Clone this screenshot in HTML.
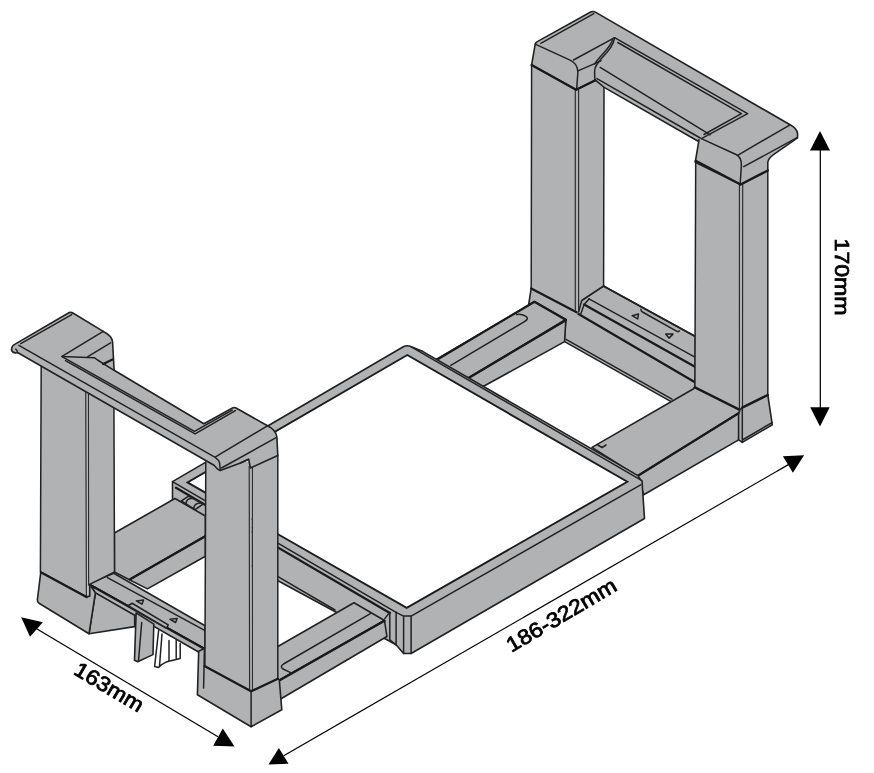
<!DOCTYPE html>
<html lang="en">
<head>
<meta charset="utf-8">
<title>Extendable rack dimensions</title>
<style>
html,body{margin:0;padding:0;background:#fff;}
body{width:874px;height:773px;overflow:hidden;}
svg{display:block;}
.f{fill:#b0b2b3;stroke:#222;stroke-width:1.6;stroke-linejoin:round;stroke-linecap:round;}
.g{fill:#b0b2b3;stroke:none;}
.gs{fill:#b0b2b3;stroke:none;}
.s{fill:#b0b2b3;stroke:#222;stroke-width:1.6;stroke-linejoin:round;}
.l{fill:none;stroke:#222;stroke-width:1.5;stroke-linejoin:round;stroke-linecap:round;}
.k{fill:none;stroke:#1a1a1a;stroke-width:2.3;stroke-linejoin:round;stroke-linecap:round;}
.w{fill:#fff;stroke:#1c1c1c;stroke-width:1.9;stroke-linejoin:miter;}
.t{fill:none;stroke:#2a2a2a;stroke-width:1.15;}
.d{fill:none;stroke:#000;stroke-width:1.25;}
.a{fill:#000;stroke:none;}
text{font-family:"Liberation Sans","Noto Sans CJK SC",sans-serif;font-size:21px;fill:#000;stroke:#000;stroke-width:.8;}
</style>
</head>
<body>
<svg width="874" height="773" viewBox="0 0 874 773">
<rect width="874" height="773" fill="#fff"/>

<!-- ================= RIGHT FRAME : base crossbar ================= -->
<g id="rbase">
<polygon class="f" points="531.2,288.4 528.8,303.7 565.7,321.5 564.1,341.4 672.4,402.4 695.4,389 695.4,336.5 603.4,286 578.8,300"/>
<path class="l" d="M603.4,286 L695.4,336.5"/>
<path class="l" d="M589,298.9 L695.4,357.4"/>
<path class="k" d="M584.1,304.5 L695.4,367"/>
<path class="k" d="M578.5,314.1 L695.4,382.5"/>
<path class="l" d="M566,339.3 L672,399.2"/>
<path class="l" d="M581.7,300.5 L603.4,286 M589,298.9 L584.1,304.5 L580.8,314.1"/>
<path class="l" d="M640.9,309.2 Q640.6,311 642.5,312 L676.5,331.2 Q678.5,332.2 679.4,330.9"/>
<path class="l" d="M632.1,315.7 L638.5,314.1 L637.7,318.9 Z M665.7,334.1 L673,334.1 L669,338.1 Z"/>
</g>

<!-- back rail (RL post -> plate back corner) -->
<g id="backrail">
<polygon class="f" points="534.6,301.6 565.8,319.5 465,380 432,362"/>
<polygon class="f" points="565.8,320.3 564.6,341.6 480,388.3 465,380"/>
<path class="k" d="M565.8,320.3 L466,379.4"/>
<path class="k" d="M436,360.2 L534.4,301.8 L565.7,319.7" stroke-width="1.9"/>
<path class="l" d="M450.8,365.4 L524.5,321.6 Q529.6,318.6 525.5,316.2 Q521,313.4 516.5,314.6"/>
</g>

<!-- right rail (RR post -> plate right corner) -->
<g id="rightrail">
<polygon class="f" points="694.9,386.5 739.8,409 739.8,412.4 637.5,476.1 592,447.4 693.6,388.7"/>
<polygon class="f" points="739.8,412.4 738.6,439.9 643.7,494.8 637.5,476.1"/>
<path class="k" d="M739.8,412.6 L637.5,476.1"/>
<path class="l" d="M597,444.5 L602,447.5 L606,445"/>
</g>

<!-- ================= RIGHT FRAME : posts ================= -->
<g id="rposts">
<polygon class="g" points="531.6,65 577,89.8 577,312.3 531.2,288.4"/>
<polygon class="gs" points="577,89 595,80.5 604,87.4 603.6,286 581.7,300.5 578.6,312 577,312.3"/>
<path class="l" d="M531.6,65 L531.2,288.4 M604,87.4 L603.6,286 L581.7,300.5 L578.6,312"/>
<path class="k" d="M531.2,288.4 L576.6,312.3"/>
<path class="t" d="M575.3,90 L575.3,311.5 M578.6,90 L578.6,312"/>
<polygon class="g" points="695.7,160.8 741,184.6 741,409.9 694.9,387.4"/>
<polygon class="gs" points="741,184 767.8,170.4 767.8,394.9 742.3,407.4 741,409.9"/>
<path class="l" d="M695.7,160.8 L694.9,387.4 M767.8,170.4 L767.8,394.9"/>
<path class="k" d="M694.9,387.4 L739.8,409.9"/>
<path class="t" d="M739.4,184.8 L739.4,409.4 M742.7,184 L742.5,407.4"/>
<polygon class="f" points="742.3,407.4 767.8,394.9 772.3,424.8 742.3,442.4 738.6,439.9 738.6,414.9 739.8,410"/>
<path class="l" d="M742.3,407.4 L742.3,442.4 M772,422.6 L742.3,440"/>
<path class="k" d="M742.3,407.6 L767.8,395"/>
</g>

<!-- ================= RIGHT FRAME : top bar / caps ================= -->
<g id="rtop">
<path class="f" d="M535.2,44.1 Q535.4,42.6 537.3,41.6 L590.2,12.3 Q593,10.7 595.8,12.4 L790.1,124.8 Q797,128.5 797.6,133.6 L797.5,137.8 L773.5,154.6 Q768.2,158.2 767.8,162.5 L767.8,170.6 L740.6,184.6 L695.2,162.3 L699,139.8 L697.7,141 L604.2,87.4 L595.4,80.2 L576.1,89.8 L531.6,65 Z"/>
<path class="l" d="M540.8,43.3 L593.8,13.6"/>
<path class="l" d="M535.2,44.1 L569,59.6 Q577.5,63 577.9,72 L576.6,89.8"/>
<path class="l" d="M573.5,60 L614.6,37.7"/>
<path class="l" d="M578.5,70.6 L601,60.9"/>
<path class="l" d="M614.6,37.7 C613,49 603,55 596.5,65 Q594.3,68.5 594.6,72 L594.8,80.2"/>
<path class="l" d="M612.6,39.2 C611,48 601,54 594.6,64"/>
<path class="l" d="M614.6,37.7 L747.6,113.6 L701.4,138.6"/>
<path class="l" d="M617.8,42.5 L741.4,113.6 L704,134.5"/>
<path class="l" d="M600.2,67.4 L710.2,134.8"/>
<path class="l" d="M597,78.6 L700.2,138"/>
<path class="l" d="M701.4,138.6 L736,154.5 Q741.4,157 741.4,165 L740.1,184.8"/>
<path class="l" d="M737.6,155.3 L790.1,124.8"/>
<path class="l" d="M743.8,166.7 L797.5,137.3"/>
<path class="k" d="M695.7,160.8 L740.6,184.6 L767.8,170.4"/>
<path class="k" d="M531.6,65 L576.1,89.8 L595.4,80.2"/>
</g>

<!-- ================= PLATE ================= -->
<g id="plate">
<path class="f" d="M403.3,346.8 Q407.3,344.6 411.3,346.8 L423,351.6 L638,475.6 L640.6,479.9 L642,480.6 L644.5,518.5 L411.1,653.5 L403.6,653.5 L396.1,644.8 L278,580.8 L172.5,523 L172.5,481.6 Z"/>
<path class="l" d="M411.3,346.8 L640.6,479.9"/>
<polygon class="w" points="407.3,355 627.3,481.8 406.7,607.9 187.5,482.4"/>
<path class="l" d="M411.1,616.1 L640.7,484.8"/>
<path class="l" d="M396.1,612.3 L396.1,644.8 M403.6,616.1 L403.6,653.5 M411.1,616.1 L411.1,653.5 M396.1,612.3 L403.6,616.1 L411.1,616.1"/>
<path class="l" d="M172.5,481.6 L396.1,612.3"/>
<path class="k" d="M176,487.8 L389.8,613" stroke-width="2.6"/>
<path class="l" d="M384.8,618.6 L389.8,612.3 L389.8,639.8 L396.1,644.8"/>
<path class="l" d="M278,576.6 L335,610"/>
</g>

<!-- ================= LEFT FRAME : rails / crossbar ================= -->
<g id="lrails">
<!-- back-left rail -->
<polygon class="f" points="114.4,533 175,498.5 205.4,516 205.4,536 129.4,579.7 114.4,572"/>
<polygon class="f" points="129.4,579.7 205.4,536 205.4,556.2 147.4,588.9"/>
<path class="k" d="M130.5,579 L205.4,536.3"/>
<path class="f" d="M181.4,500.9 L188.6,496.1 L203,504.1 L195,509.7 Z"/>
<path class="l" d="M186,503.5 Q186.5,498 192.5,498.5 M193.5,508.5 Q194.5,503 200.5,503"/>
<!-- front rail -->
<polygon class="f" points="354,602.8 384.5,620.5 270,685.5 270,651"/>
<polygon class="f" points="384.5,620.5 386.9,636.5 270,705.3 270,685.5"/>
<path class="k" d="M384.5,620.7 L270,685.7"/>
<path class="l" d="M370.8,613.3 L283.5,664 Q279.5,666.8 283,669 L290.7,672.6"/>
<!-- crossbar -->
<polygon class="f" points="113.8,573.2 205.1,625.7 205.1,649 90.6,584.9 89,583.6"/>
<polygon class="f" points="90.6,584.9 205.1,649 205.1,655.8 95.4,592.9"/>
<path class="l" d="M107.4,577.7 L205.1,630.6"/>
<path class="k" d="M90.6,585.2 L205.1,649.2"/>
<path class="f" d="M128.1,605.7 L132.1,603.3 L168.2,624.9 L166.6,628.2 Z"/>
<path class="l" d="M136.3,600.9 L143.5,600.1 L141.9,604.1 Z M170,619.3 L177.2,618.5 L175.6,622.5 Z"/>
<!-- ribs -->
<polygon class="f" points="95.4,592.9 89,633.8 134.7,626.6 134.7,615.4"/>
<polygon class="f" points="136.1,612.9 134.5,660.2 137.7,661.8 153,654.6 153.8,624.1"/>
<path class="l" d="M141.7,622.5 L138.5,661"/>
<path class="l" d="M158.6,630.6 L154.6,666.6 L158.6,667.4 Q164,662 169.8,661 L180.2,658.6 L180.2,643.4 M169,640.5 L169,661 M176.2,640.2 L176.2,658.6 M162,634 L159.5,666"/>
</g>

<!-- ================= LEFT FRAME : posts ================= -->
<g id="lposts">
<polygon class="g" points="41.2,352 87.3,352 87.4,597.9 40.4,571.2"/>
<polygon class="gs" points="87.3,350 113.5,350 114.5,572 90.2,584 90.2,596.3 87.4,597.9"/>
<path class="l" d="M41.2,360 L40.4,571.2 M113.9,400 L114.5,572 L88.6,584.9"/>
<path class="t" d="M85.7,385 L86.4,597.5 M88.4,385 L88.6,584.9"/>
<path class="f" d="M40.8,572.1 L86.5,596.9 L89.8,596.1 L89.8,584.5 L95.4,592.9 L89,633.8 L39,603.2 Q37,601.7 37.4,599.5 Z"/>
<path class="k" d="M40.8,572.3 L86.5,597.1"/>

<polygon class="f" points="198.7,651.2 205.5,648 205.5,666.1 251.1,691.1 277.8,678.6 279.3,679.9 281.8,709.8 251.1,726.8 197.4,694.8"/>
<path class="l" d="M204.4,650 L203.6,688"/>
<polygon class="g" points="205.6,458 251.3,462 251.3,691.1 204.9,666.1"/>
<polygon class="gs" points="251.3,462 277.6,452 277.8,678.6 251.3,691.1"/>
<path class="l" d="M205.8,462 L204.9,666.1 M277.8,455 L277.8,678.6"/>
<path class="t" d="M249.2,466 L249.6,690.3 M252.4,466 L252.4,690.3"/>
<path class="l" d="M251.1,691.1 L251.1,726.8"/>
<path class="k" d="M204.9,666.3 L251.1,691.3 L277.8,678.8"/>
</g>

<!-- ================= LEFT FRAME : top bar ================= -->
<g id="ltop">
<path class="f" d="M11.6,349.1 Q11.6,345.8 15.1,344.1 L68,313.2 Q70.6,311.6 73.3,313.2 L103.2,331.4 Q112,335.5 112.6,342 L114.1,370.3 L203.9,423.7 L232,408.2 Q234.2,406.9 236.5,408.2 L267.5,425.8 Q276,430 276.9,437 L277.8,455.4 L250.5,468 L248.6,459.2 L240.4,463 L220.3,470.5 L217.8,469.3 L214,465.2 L17.5,352.5 Q13.5,353.6 12,351 Q11.3,350 11.6,349.1 Z"/>
<path class="l" d="M20.8,343.6 L71.7,314.6"/>
<path class="l" d="M103.2,331.4 L62,356.4 L94.6,357.8 L97.5,360 L114.1,370.3"/>
<path class="l" d="M110.6,342.9 L87.8,356.6"/>
<path class="k" d="M112.4,359.5 L103.2,364"/>
<path class="l" d="M62,356.6 L194.5,431.3 L232.2,410.1"/>
<path class="l" d="M65.5,360.7 L195.1,433.9 L235.4,410.6"/>
<path class="l" d="M267.5,425.8 L215.9,456.7"/>
<path class="l" d="M275.7,437.8 L221.5,468"/>
<path class="l" d="M18.9,345.3 L215.2,457.3 Q219,460 219.6,463 L220.3,470.5"/>
<path class="l" d="M17.5,352.5 Q17.3,350.2 15.7,349.2"/>
<path class="l" d="M240.4,463 L248.6,459.2"/>
</g>

<!-- ================= DIMENSIONS ================= -->
<g id="dims" opacity="0.999">
<path class="d" d="M820.3,145 L820.3,412"/>
<polygon class="a" points="820,131.1 810,150.6 830,150.6"/>
<polygon class="a" points="820,426.5 810.2,407.2 829.7,407.2"/>
<text transform="translate(835.4,238.6) rotate(90)" textLength="77" lengthAdjust="spacingAndGlyphs">170mm</text>

<path class="d" d="M36.6,628.8 L218,736.7"/>
<polygon class="a" points="21.2,617.3 42.9,622.2 30,636.8"/>
<polygon class="a" points="222.8,728.4 213.2,745.7 234.5,746.4"/>
<text transform="translate(72.6,673.6) rotate(30.8)" textLength="76.5" lengthAdjust="spacingAndGlyphs">163mm</text>

<path class="d" d="M283.7,755.7 L788.8,464.4"/>
<polygon class="a" points="804.1,455.2 782.9,456.2 792.9,472.8"/>
<polygon class="a" points="278.9,748 268.5,764.5 288.5,763.7"/>
<text transform="translate(511.6,652.8) rotate(-30.6)" textLength="124" lengthAdjust="spacingAndGlyphs">186-322mm</text>
</g>
</svg>
</body>
</html>
